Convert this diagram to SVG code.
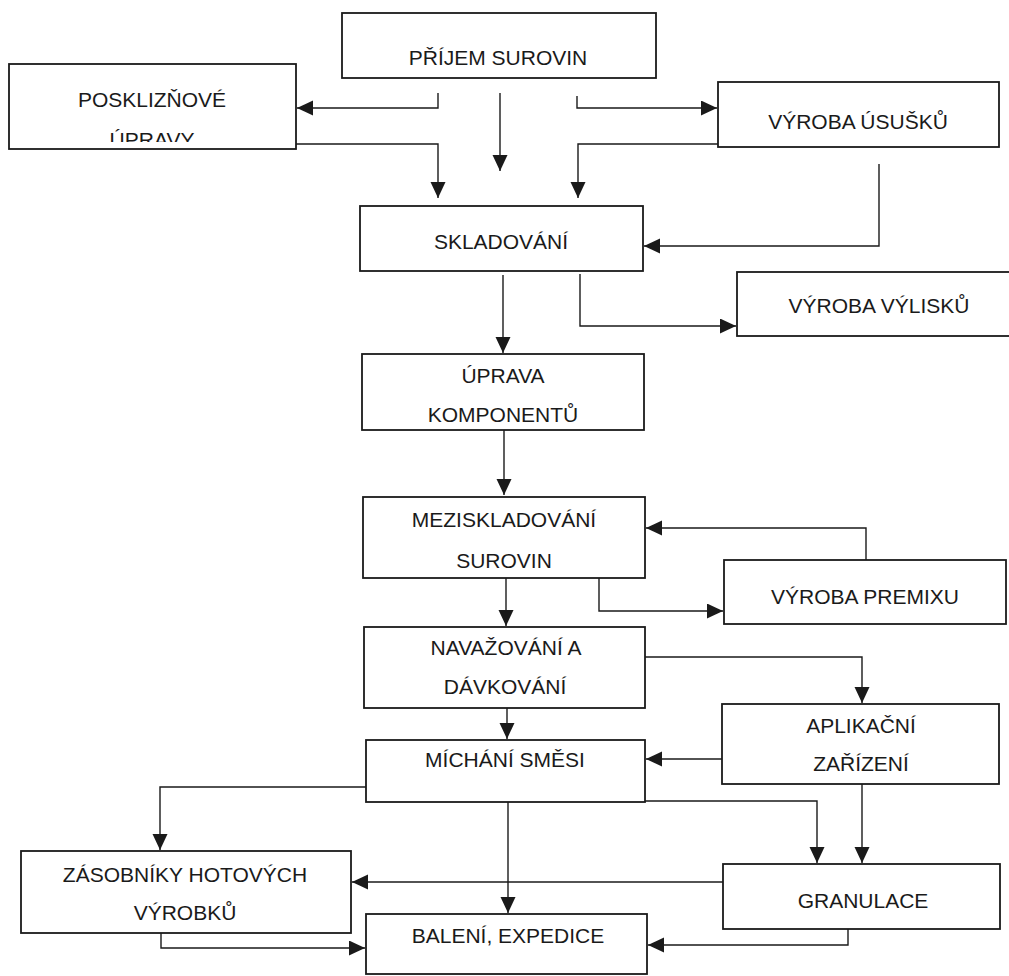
<svg xmlns="http://www.w3.org/2000/svg" width="1009" height="976" viewBox="0 0 1009 976">
<style>
.box{fill:#fff;stroke:#1a1a1a;stroke-width:1.8}
.t{font-family:"Liberation Sans",Arial,sans-serif;font-size:21px;fill:#1a1a1a;text-anchor:middle}
.c{fill:none;stroke:#1a1a1a;stroke-width:1.4;marker-end:url(#ah)}
</style>
<defs>
<marker id="ah" markerUnits="userSpaceOnUse" markerWidth="17" markerHeight="16" refX="16" refY="7.5" orient="auto">
<path d="M0,0 L16,7.5 L0,15 z" fill="#1a1a1a"/>
</marker>
<clipPath id="clipPos"><rect x="9" y="64" width="287" height="78"/></clipPath>
</defs>
<rect width="1009" height="976" fill="#fff"/>
<g id="connectors">
<path class="c" d="M438,93 V108 H297"/>
<path class="c" d="M500,93 V171"/>
<path class="c" d="M577,96 V108 H717"/>
<path class="c" d="M296,144 H438 V198"/>
<path class="c" d="M718,144 H578 V198"/>
<path class="c" d="M879,164 V246 H644"/>
<path class="c" d="M503,275 V353"/>
<path class="c" d="M580,274 V326 H736"/>
<path class="c" d="M504,430 V495"/>
<path class="c" d="M866,560 V528 H646"/>
<path class="c" d="M599,578 V611 H723"/>
<path class="c" d="M506,578 V626"/>
<path class="c" d="M645,657 H862 V703"/>
<path class="c" d="M507,708 V739"/>
<path class="c" d="M722,759 H646"/>
<path class="c" d="M366,787 H160 V850"/>
<path class="c" d="M645,801 H817 V863"/>
<path class="c" d="M862,784 V863"/>
<path class="c" d="M508,802 V913"/>
<path class="c" d="M723,882 H352"/>
<path class="c" d="M161,933 V948 H365"/>
<path class="c" d="M848,929 V945 H648"/>
</g>
<g id="prijem"><rect class="box" x="342" y="13" width="314" height="65"/><text class="t" x="498" y="65">PŘÍJEM SUROVIN</text></g>
<g id="posklizn"><rect class="box" x="9" y="64" width="287" height="85"/><text class="t" x="152" y="107">POSKLIZŇOVÉ</text><text class="t" x="152" y="147" clip-path="url(#clipPos)">ÚPRAVY</text></g>
<g id="ususku"><rect class="box" x="718" y="82" width="281" height="65"/><text class="t" x="858" y="129">VÝROBA ÚSUŠKŮ</text></g>
<g id="skladovani"><rect class="box" x="360" y="206" width="283" height="65"/><text class="t" x="501" y="249">SKLADOVÁNÍ</text></g>
<g id="vylisku"><rect class="box" x="737" y="272" width="280" height="64"/><text class="t" x="879" y="313">VÝROBA VÝLISKŮ</text></g>
<g id="uprava"><rect class="box" x="362" y="354" width="282" height="76"/><text class="t" x="503" y="383">ÚPRAVA</text><text class="t" x="503" y="422">KOMPONENTŮ</text></g>
<g id="meziskladovani"><rect class="box" x="363" y="497" width="282" height="81"/><text class="t" x="504" y="527">MEZISKLADOVÁNÍ</text><text class="t" x="504" y="568">SUROVIN</text></g>
<g id="premix"><rect class="box" x="724" y="560" width="282" height="64"/><text class="t" x="865" y="604">VÝROBA PREMIXU</text></g>
<g id="navazovani"><rect class="box" x="364" y="627" width="281" height="81"/><text class="t" x="506" y="655">NAVAŽOVÁNÍ A</text><text class="t" x="505" y="694">DÁVKOVÁNÍ</text></g>
<g id="aplikacni"><rect class="box" x="722" y="704" width="277" height="80"/><text class="t" x="861" y="733">APLIKAČNÍ</text><text class="t" x="861" y="771">ZAŘÍZENÍ</text></g>
<g id="michani"><rect class="box" x="366" y="740" width="279" height="62"/><text class="t" x="505" y="767">MÍCHÁNÍ SMĚSI</text></g>
<g id="zasobniky"><rect class="box" x="21" y="851" width="330" height="82"/><text class="t" x="185" y="882">ZÁSOBNÍKY HOTOVÝCH</text><text class="t" x="185" y="920">VÝROBKŮ</text></g>
<g id="granulace"><rect class="box" x="723" y="864" width="277" height="65"/><text class="t" x="863" y="908">GRANULACE</text></g>
<g id="baleni"><rect class="box" x="366" y="914" width="281" height="60"/><text class="t" x="508" y="943">BALENÍ, EXPEDICE</text></g>
</svg>
